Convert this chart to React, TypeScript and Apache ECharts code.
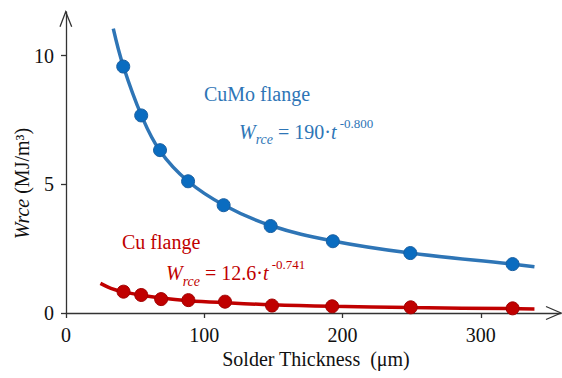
import { useEffect, useRef } from "react";
import * as echarts from "echarts";

const cumoThickness = [41.4, 54.4, 68, 88.3, 114, 148, 193, 249, 323];
const cumoW = [9.58, 7.68, 6.33, 5.12, 4.19, 3.38, 2.79, 2.33, 1.9];
const cuThickness = [41.6, 54.4, 68.8, 88.5, 115, 149, 192.5, 249.3, 323];
const cuW = [0.83, 0.7, 0.54, 0.5, 0.44, 0.29, 0.26, 0.22, 0.18];

const cumoFitX = [34.2, 41.4, 54.4, 68, 88.3, 114, 148, 193, 249, 323, 338.8];
const cumoFitY = [11.05, 9.6, 7.7, 6.3, 5.12, 4.2, 3.4, 2.8, 2.33, 1.9, 1.8];
const cuFitX = [24.9, 32.5, 41.6, 54.4, 68.8, 88.5, 115, 149, 192.5, 249.3, 323, 338.8];
const cuFitY = [1.15, 0.96, 0.82, 0.69, 0.58, 0.48, 0.4, 0.32, 0.26, 0.21, 0.17, 0.16];

const xTicks = [0, 100, 200, 300];
const yTicks = [0, 5, 10];

const FONT = "Liberation Serif";
const BLUE_LINE = "#2e75b6";
const BLUE_DOT = "#0a6cc0";
const RED = "#c00000";
const AXIS = "#333333";

const zip = (xs: number[], ys: number[]) => xs.map((x, i) => [x, ys[i]]);

const eqRich = (color: string) => ({
  w: { fontFamily: FONT, fontSize: 20, fontStyle: "italic", fill: color, color, lineHeight: 30 },
  sub: { fontFamily: FONT, fontSize: 14, fontStyle: "italic", fill: color, color, lineHeight: 20, verticalAlign: "bottom" },
  m: { fontFamily: FONT, fontSize: 20, fill: color, color, lineHeight: 30 },
  t: { fontFamily: FONT, fontSize: 20, fontStyle: "italic", fill: color, color, lineHeight: 30 },
  sup: { fontFamily: FONT, fontSize: 13, fill: color, color, lineHeight: 16, verticalAlign: "top" },
});

export default function App() {
  const ref = useRef<HTMLDivElement>(null);
  useEffect(() => {
    document.body.style.margin = "0";
    const chart = echarts.init(ref.current!, null, { renderer: "svg" });
    chart.setOption({
      animation: false,
      textStyle: { fontFamily: FONT },
      grid: { left: 66, right: 1, top: 12, bottom: 65 },
      xAxis: {
        type: "value",
        min: 0,
        max: 358,
        interval: 100,
        splitLine: { show: false },
        axisLine: { lineStyle: { color: AXIS, width: 1.3 } },
        axisTick: { show: true, length: 5, customValues: xTicks, lineStyle: { color: AXIS, width: 1.3 } },
        axisLabel: { customValues: xTicks, fontFamily: FONT, fontSize: 20, color: "#111", margin: 12 },
      },
      yAxis: {
        type: "value",
        min: 0,
        max: 11.7,
        interval: 5,
        splitLine: { show: false },
        axisLine: { show: true, lineStyle: { color: AXIS, width: 1.3 } },
        axisTick: { show: true, length: 5, customValues: yTicks, lineStyle: { color: AXIS, width: 1.3 } },
        axisLabel: { customValues: yTicks, fontFamily: FONT, fontSize: 20, color: "#111", margin: 12 },
      },
      series: [
        {
          type: "line",
          data: zip(cumoFitX, cumoFitY),
          smooth: 0.4,
          showSymbol: false,
          lineStyle: { color: BLUE_LINE, width: 3.5 },
          z: 2,
        },
        {
          type: "line",
          data: zip(cuFitX, cuFitY),
          smooth: 0.4,
          showSymbol: false,
          lineStyle: { color: RED, width: 3.5 },
          z: 2,
        },
        {
          type: "scatter",
          data: zip(cumoThickness, cumoW),
          symbolSize: 13,
          itemStyle: { color: BLUE_DOT, borderColor: "#1a5fa0", borderWidth: 1, opacity: 1 },
          z: 3,
        },
        {
          type: "scatter",
          data: zip(cuThickness, cuW),
          symbolSize: 13,
          itemStyle: { color: RED, borderColor: "#a00000", borderWidth: 1, opacity: 1 },
          z: 3,
        },
      ],
      graphic: [
        {
          type: "polyline",
          shape: { points: [[60, 26.7], [65.7, 11.7], [71.7, 26.7]] },
          style: { stroke: AXIS, lineWidth: 1.3, fill: "none" },
        },
        {
          type: "polyline",
          shape: { points: [[546, 306.5], [561, 313], [546, 319.5]] },
          style: { stroke: AXIS, lineWidth: 1.3, fill: "none" },
        },
        {
          type: "text",
          x: 22,
          y: 183.5,
          rotation: Math.PI / 2,
          style: {
            text: "{i|Wrce} (MJ/m³)",
            align: "center",
            verticalAlign: "middle",
            fontFamily: FONT,
            fontSize: 20,
            fill: "#111",
            rich: { i: { fontFamily: FONT, fontSize: 20, fontStyle: "italic", fill: "#111" } },
          },
        },
        {
          type: "text",
          x: 316,
          y: 359,
          style: {
            text: "Solder Thickness\u00a0 (μm)",
            align: "center",
            verticalAlign: "middle",
            fontFamily: FONT,
            fontSize: 20,
            fill: "#111",
          },
        },
        {
          type: "text",
          x: 204,
          y: 93.5,
          style: { text: "CuMo flange", align: "left", verticalAlign: "middle", fontFamily: FONT, fontSize: 20, fill: BLUE_LINE },
        },
        {
          type: "text",
          x: 239,
          y: 131.7,
          style: {
            text: "{w|W}{sub|rce}{m| = 190·}{t|t}{sup|\u00a0-0.800}",
            align: "left",
            verticalAlign: "middle",
            fontFamily: FONT,
            fontSize: 20,
            fill: BLUE_LINE,
            rich: eqRich(BLUE_LINE),
          },
        },
        {
          type: "text",
          x: 122,
          y: 241.7,
          style: { text: "Cu flange", align: "left", verticalAlign: "middle", fontFamily: FONT, fontSize: 20, fill: RED },
        },
        {
          type: "text",
          x: 166,
          y: 273.3,
          style: {
            text: "{w|W}{sub|rce}{m| = 12.6·}{t|t}{sup|\u00a0-0.741}",
            align: "left",
            verticalAlign: "middle",
            fontFamily: FONT,
            fontSize: 20,
            fill: RED,
            rich: eqRich(RED),
          },
        },
      ],
    });
    return () => chart.dispose();
  }, []);
  return <div ref={ref} style={{ width: 562, height: 378 }} />;
}
